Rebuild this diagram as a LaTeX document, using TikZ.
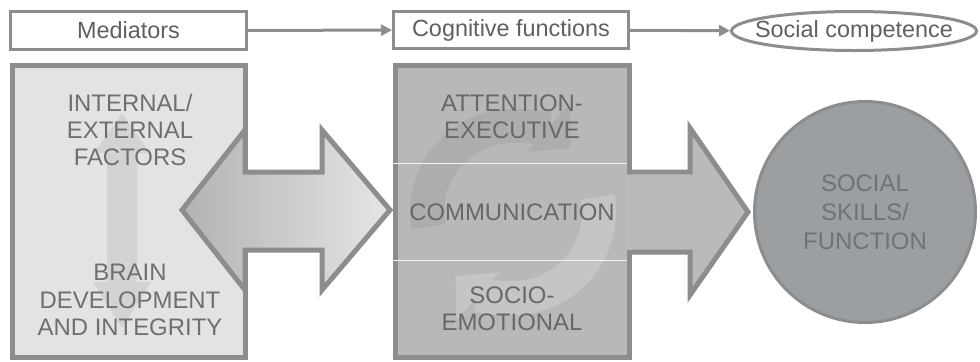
\documentclass[tikz,border=0pt]{standalone}
\usepackage{fontspec}
\setmainfont{Liberation Sans}
\usetikzlibrary{arrows.meta,shapes.geometric,positioning}
\definecolor{edgegray}{HTML}{8B8D8F}
\definecolor{titletext}{HTML}{606060}
\definecolor{leftfill}{HTML}{E3E3E4}
\definecolor{leftarrow}{HTML}{D2D3D4}
\definecolor{lefttext}{HTML}{6F6F6F}
\definecolor{midfill}{HTML}{B6B8BA}
\definecolor{midtext}{HTML}{686868}
\definecolor{cycledark}{HTML}{ABADAF}
\definecolor{cyclelight}{HTML}{C3C5C7}
\definecolor{skillfill}{HTML}{9C9FA2}
\definecolor{skilltext}{HTML}{6F7377}

\begin{document}
\begin{tikzpicture}[x=1bp,y=-1bp]
\tikzstyle{title}=[rectangle, draw=edgegray, line width=3bp, fill=white, text=titletext, font=\fontsize{23.5}{28}\selectfont, minimum height=38bp, minimum width=236bp, inner sep=0pt]
\tikzstyle{big}=[rectangle, draw=edgegray, line width=5bp, minimum width=233bp, minimum height=292bp]
\tikzstyle{caps}=[align=center, inner sep=0pt, font=\fontsize{24}{27.5}\selectfont]
\tikzstyle{connect}=[-{Triangle[length=11bp,width=11bp]}, line width=3bp, draw=edgegray]
\tikzstyle{block}=[line width=5bp, draw=edgegray, line join=miter]
\tikzstyle{cycle}=[line width=34bp, -{Triangle[length=30bp,width=62bp]}]

\useasboundingbox (0,0) rectangle (980,361);

% top row
\node[title] (med) at (128.5,30.5) {Mediators};
\node[title, minimum width=235bp, minimum height=37bp] (cog) at (511,30) {Cognitive functions};
\node[ellipse, draw=edgegray, line width=3bp, minimum width=245bp, minimum height=39bp, inner sep=0pt] (soc) at (854,31) {};
\node[caps, text=titletext, font=\fontsize{23.5}{28}\selectfont] (soctext) at (soc.center) {Social competence};

\path (med) edge [connect] (cog);
\path (cog) edge [connect] (soc);

% mediators
\node[big, fill=leftfill] (medbox) at (129,211.5) {};
\fill[leftarrow] (122,113) -- (150,153) -- (137,153) -- (137,282) -- (151,282)
  -- (122,328) -- (93,282) -- (107,282) -- (107,153) -- (94,153) -- cycle;
\node[caps, text=lefttext] (factors) at (130,130) {INTERNAL/\\EXTERNAL\\FACTORS};
\node[caps, text=lefttext] (brain) at (130,300) {BRAIN\\DEVELOPMENT\\AND INTEGRITY};

% two way block arrow
\draw[block, left color=black!30, right color=black!10] (182,210) -- (245,130) -- (245,172) -- (322,172)
  -- (322,130) -- (390,210) -- (322,290) -- (322,250) -- (245,250) -- (245,290) -- cycle;

% cognitive functions
\node[big, fill=midfill, minimum width=234bp] (cogbox) at (512.5,211.5) {};
\draw[cycle, cycledark] (513,212) ++(170:86) arc[start angle=170, end angle=312, radius=86];
\draw[cycle, cyclelight] (513,212) ++(350:86) arc[start angle=350, end angle=492, radius=86];
\draw[white!85!midfill, line width=1bp] (cogbox.west |- 0,163) -- (627,163);
\draw[white!85!midfill, line width=1bp] (cogbox.west |- 0,260) -- (627,260);
\node[caps, text=midtext] (attention) at (512,117) {ATTENTION-\\EXECUTIVE};
\node[caps, text=midtext] (communication) at (512,212) {COMMUNICATION};
\node[caps, text=midtext] (socio) at (512,309) {SOCIO-\\EMOTIONAL};

% one way block arrow
\fill[black!27] (627,174.5) -- (692,174.5) -- (692,131) -- (746,212) -- (692,292) -- (692,250) -- (627,250) -- cycle;
\draw[block] (632,172) -- (690,172) -- (690,128) -- (748,212) -- (690,295) -- (690,252) -- (632,252);

% social skills
\node[circle, draw=edgegray, line width=3bp, fill=skillfill, minimum size=221bp] (skills) at (865,212) {};
\node[caps, text=skilltext, font=\fontsize{24}{29}\selectfont] (skillstext) at (skills.center) {SOCIAL\\SKILLS/\\FUNCTION};

\end{tikzpicture}
\end{document}
